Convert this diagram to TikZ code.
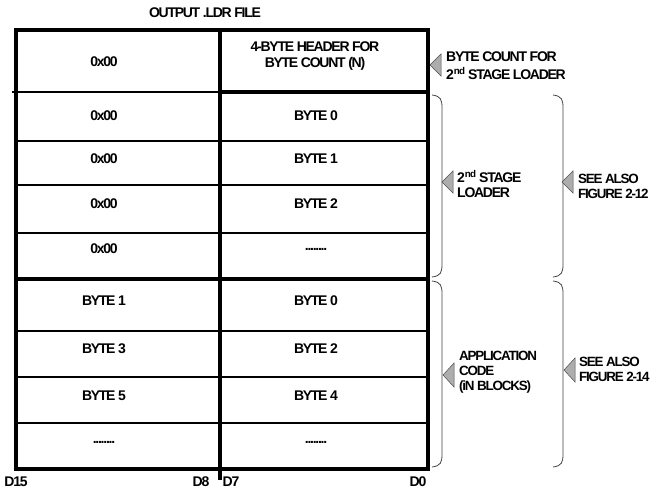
\documentclass[tikz,border=0pt]{standalone}
\usepackage{fontspec}
\setmainfont{Liberation Sans}[LetterSpace=-9]
\begin{document}
\begin{tikzpicture}[x=1pt,y=-1pt,
  lbl/.style={font=\fontsize{14}{15}\selectfont\bfseries, inner sep=0pt, align=left},
  edgelbl/.style={font=\fontsize{13.4}{15}\selectfont\bfseries, inner sep=0pt, align=left},
  cell/.style={font=\fontsize{14}{15}\selectfont\bfseries, inner sep=0pt, align=center},
  thickline/.style={line width=3.6pt},
  thinline/.style={line width=1.6pt},
  pointer/.style={fill=black!32, draw=black!70, line width=0.5pt, line join=miter},
  bracket/.style={draw=black!75, line width=0.8pt}]
\useasboundingbox (0,0) rectangle (652,494);
% grid
\draw[thinline] (12,92) -- (220,92);
\draw[thickline] (220,92) -- (428,92);
\foreach \yy in {141,185,233,331,377} \draw[thinline] (16,\yy) -- (428,\yy);
\draw[thinline] (16,423) -- (430,423);
\draw[thickline] (16,279) -- (428,279);
\draw[thickline, line join=miter] (16,30) rectangle (428,469);
\draw[thickline] (220,30) -- (220,480);
% title
\node[cell] (title) at (205,13) {OUTPUT .LDR FILE};
% header
\node[cell] (h0) at (104,62) {0x00};
\node[cell] (h1) at (315,56) {4-BYTE HEADER FOR\\[1pt]BYTE COUNT (N)};
% second stage loader rows
\node[cell] (a0) at (104,116) {0x00};
\node[cell] (b0) at (316,116) {BYTE 0};
\node[cell] (a1) at (104,159) {0x00};
\node[cell] (b1) at (316,159) {BYTE 1};
\node[cell] (a2) at (104,204) {0x00};
\node[cell] (b2) at (316,204) {BYTE 2};
\node[cell] (a3) at (104,249) {0x00};
\node[cell] (b3) at (316,249) {........};
% application rows
\node[cell] (c0) at (104,301) {BYTE 1};
\node[cell] (d0) at (316,301) {BYTE 0};
\node[cell] (c1) at (104,349) {BYTE 3};
\node[cell] (d1) at (316,349) {BYTE 2};
\node[cell] (c2) at (104,396) {BYTE 5};
\node[cell] (d2) at (316,396) {BYTE 4};
\node[cell] (c3) at (104,442) {........};
\node[cell] (d3) at (316,442) {........};
% bit labels
\node[cell] (d15) at (16,482) {D15};
\node[cell] (d8) at (201,482) {D8};
\node[cell] (d7) at (231,482) {D7};
\node[cell] (dz) at (418,482) {D0};
% brackets
\draw[bracket] (432,95) .. controls (441,96) and (442,100) .. (442,108) -- (442,264) .. controls (442,272) and (441,276) .. (432,277);
\draw[bracket] (553,95) .. controls (562,96) and (563,100) .. (563,108) -- (563,264) .. controls (563,272) and (562,276) .. (553,277);
\draw[bracket] (432,281) .. controls (441,282) and (442,286) .. (442,294) -- (442,454) .. controls (442,462) and (441,466) .. (432,467);
\draw[bracket] (553,281) .. controls (562,282) and (563,286) .. (563,294) -- (563,454) .. controls (563,462) and (562,466) .. (553,467);
% pointers
\draw[pointer] (430,65) -- (441,54) -- (441,76) -- cycle;
\draw[pointer] (442,182) -- (453,171) -- (453,193) -- cycle;
\draw[pointer] (562,182) -- (573,171) -- (573,193) -- cycle;
\draw[pointer] (443,375) -- (454,363) -- (454,387) -- cycle;
\draw[pointer] (564,370) -- (575,358) -- (575,382) -- cycle;
% side labels
\node[lbl, anchor=west] (n1) at (446,66) {BYTE COUNT FOR\\[3pt]2\textsuperscript{nd} STAGE LOADER};
\node[lbl, anchor=west] (n2) at (457,184) {2\textsuperscript{nd} STAGE\\[0pt]LOADER};
\node[edgelbl, anchor=west] (n3) at (578,186) {SEE ALSO\\[0pt]FIGURE 2-12};
\node[edgelbl, anchor=west] (n4) at (459,372) {APPLICATION\\[0pt]CODE\\[0pt](iN BLOCKS)};
\node[edgelbl, anchor=west] (n5) at (579,369) {SEE ALSO\\[0pt]FIGURE 2-14};
\end{tikzpicture}
\end{document}
